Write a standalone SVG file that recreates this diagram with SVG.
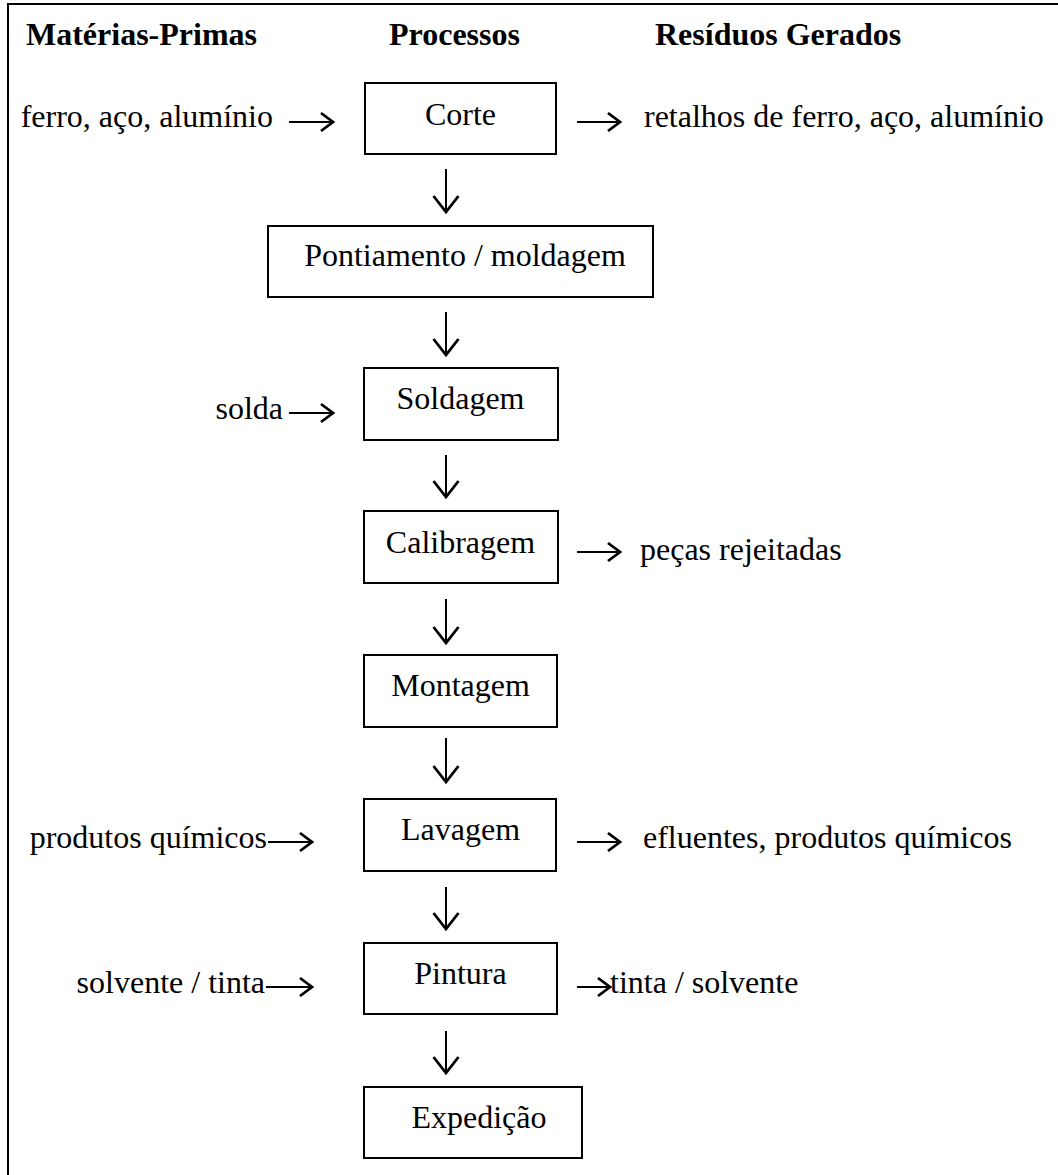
<svg xmlns="http://www.w3.org/2000/svg" width="1058" height="1175" viewBox="0 0 1058 1175">
  <style>
    .t { font-family: "Liberation Serif", "Times New Roman", serif; font-size: 32px; fill: #000; }
    .h { font-weight: bold; }
    .c { text-anchor: middle; }
    .e { text-anchor: end; }
    .box { fill: #fff; stroke: #000; stroke-width: 2; }
    .ln { fill: none; stroke: #000; stroke-width: 2; }
    .hd { fill: none; stroke: #000; stroke-width: 2.8; stroke-linejoin: miter; stroke-linecap: butt; }
  </style>
  <defs>
    <!-- open arrowheads, tip at origin -->
    <path id="headR" class="hd" d="M-12,-9 L0,0 L-12,9"/>
    <path id="headD" class="hd" d="M-12.5,-16 L0,0 L12.5,-16"/>
  </defs>

  <rect width="1058" height="1175" fill="#fff"/>

  <!-- frame (top and left rules) -->
  <path class="ln" d="M8,1175 V4 H1058" stroke="#333"/>

  <!-- column headings -->
  <g id="headings">
    <text class="t h" x="26" y="45">Matérias-Primas</text>
    <text class="t h" x="389" y="45">Processos</text>
    <text class="t h" x="655" y="45">Resíduos Gerados</text>
  </g>

  <!-- process steps -->
  <g id="corte">
    <rect class="box" x="365" y="83" width="191" height="71"/>
    <text class="t c" x="460.5" y="125">Corte</text>
  </g>
  <g id="pontiamento">
    <rect class="box" x="268" y="226" width="385" height="71"/>
    <text class="t c" x="465" y="266">Pontiamento / moldagem</text>
  </g>
  <g id="soldagem">
    <rect class="box" x="364" y="368" width="194" height="72"/>
    <text class="t c" x="460.5" y="409">Soldagem</text>
  </g>
  <g id="calibragem">
    <rect class="box" x="364" y="511" width="194" height="72"/>
    <text class="t c" x="460.5" y="553">Calibragem</text>
  </g>
  <g id="montagem">
    <rect class="box" x="364" y="655" width="193" height="72"/>
    <text class="t c" x="460.5" y="696">Montagem</text>
  </g>
  <g id="lavagem">
    <rect class="box" x="364" y="799" width="192" height="72"/>
    <text class="t c" x="460.5" y="840">Lavagem</text>
  </g>
  <g id="pintura">
    <rect class="box" x="364" y="943" width="193" height="71"/>
    <text class="t c" x="460.5" y="984">Pintura</text>
  </g>
  <g id="expedicao">
    <rect class="box" x="364" y="1087" width="218" height="71"/>
    <text class="t c" x="479" y="1128">Expedição</text>
  </g>

  <!-- raw materials -->
  <g id="inputs">
    <text class="t e" x="273" y="127">ferro, aço, alumínio</text>
    <text class="t e" x="283" y="419">solda</text>
    <text class="t e" x="267" y="848">produtos químicos</text>
    <text class="t e" x="265" y="993">solvente / tinta</text>
  </g>

  <!-- generated waste -->
  <g id="outputs">
    <text class="t" x="644" y="127">retalhos de ferro, aço, alumínio</text>
    <text class="t" x="640" y="560">peças rejeitadas</text>
    <text class="t" x="643" y="848">efluentes, produtos químicos</text>
    <text class="t" x="610" y="993">tinta / solvente</text>
  </g>

  <!-- connectors -->
  <g id="connectors">
    <!-- flow between steps -->
    <path class="ln" d="M446,169 V211"/><use href="#headD" x="446" y="212"/>
    <path class="ln" d="M446,312 V354"/><use href="#headD" x="446" y="355"/>
    <path class="ln" d="M446,455 V496"/><use href="#headD" x="446" y="497"/>
    <path class="ln" d="M446,599 V642"/><use href="#headD" x="446" y="643"/>
    <path class="ln" d="M446,738 V781"/><use href="#headD" x="446" y="782"/>
    <path class="ln" d="M446,887 V928"/><use href="#headD" x="446" y="929"/>
    <path class="ln" d="M446,1031 V1072"/><use href="#headD" x="446" y="1073"/>

    <!-- inputs into steps -->
    <path class="ln" d="M289,122 H332"/><use href="#headR" x="333" y="122"/>
    <path class="ln" d="M289,413 H332"/><use href="#headR" x="333" y="413"/>
    <path class="ln" d="M268,842 H311"/><use href="#headR" x="312" y="842"/>
    <path class="ln" d="M266,987 H311"/><use href="#headR" x="312" y="987"/>

    <!-- waste out of steps -->
    <path class="ln" d="M577,122 H619"/><use href="#headR" x="620" y="122"/>
    <path class="ln" d="M577,552 H619"/><use href="#headR" x="620" y="552"/>
    <path class="ln" d="M577,842 H619"/><use href="#headR" x="620" y="842"/>
    <path class="ln" d="M577,987 H609"/><use href="#headR" x="610" y="987"/>
  </g>
</svg>
